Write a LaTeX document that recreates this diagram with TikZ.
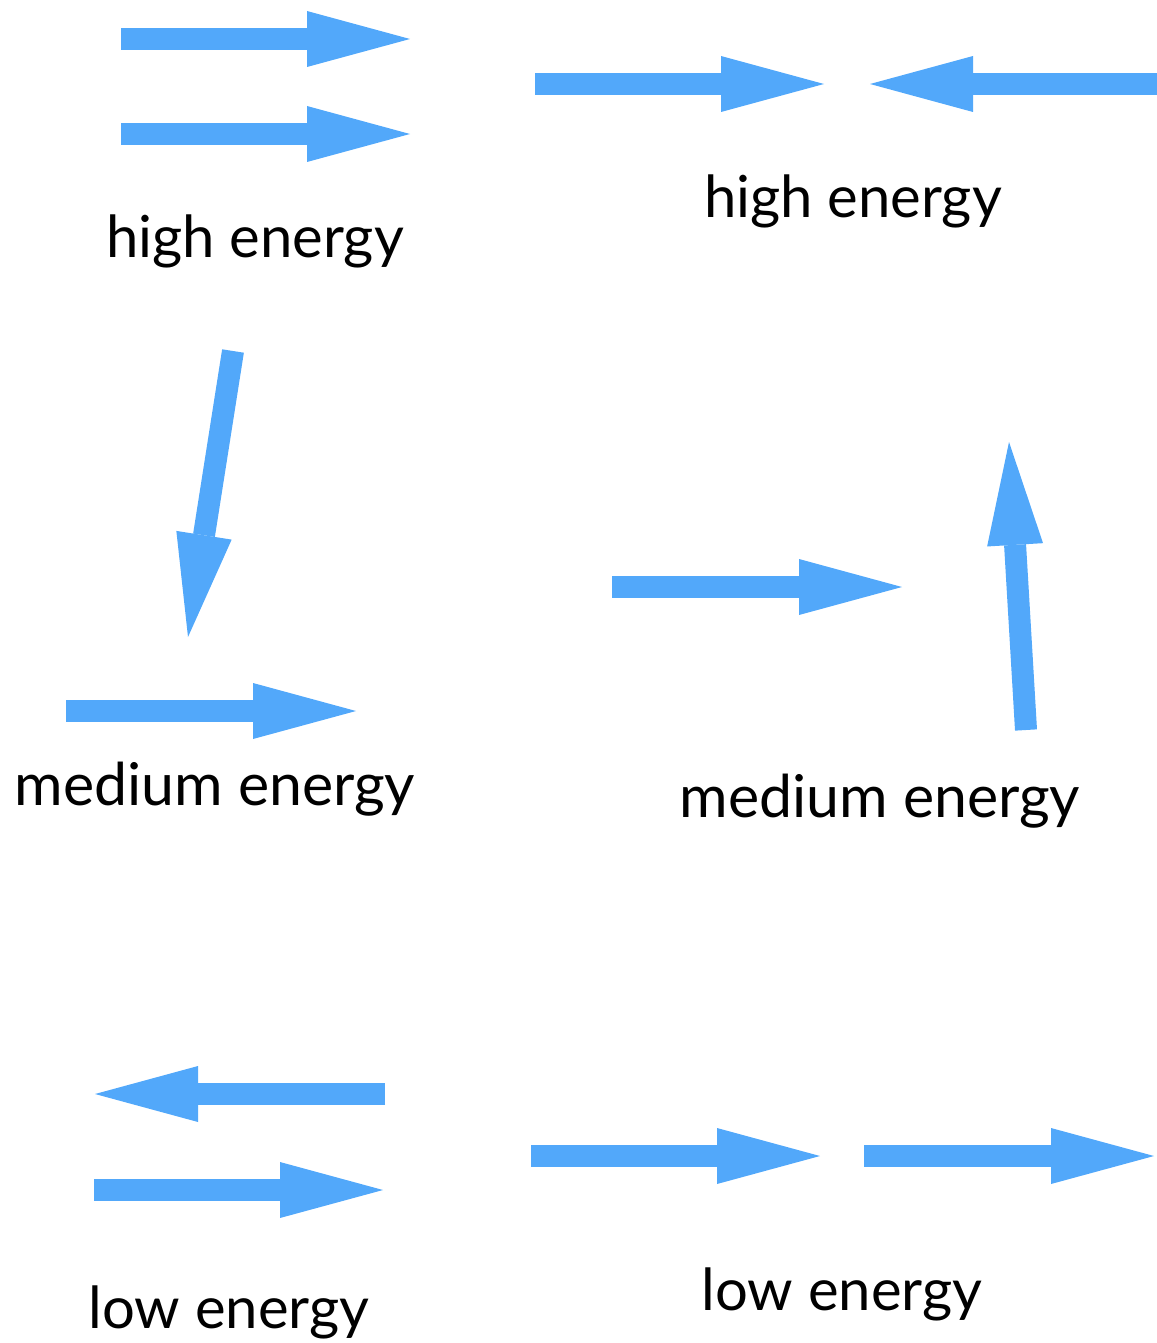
\documentclass[tikz,border=0pt]{standalone}
\usepackage{fontspec}
\setmainfont{Lato}
\usetikzlibrary{arrows.meta}
\definecolor{arrowblue}{HTML}{52A8FA}
\tikzset{
  bigarrow/.style={draw=arrowblue, line width=22pt,
    -{Triangle[length=103pt,width=56pt,line width=0pt,fill=arrowblue]}},
  lbl/.style={font=\fontsize{58}{60}\selectfont, inner sep=0pt, anchor=base}
}
\begin{document}
\begin{tikzpicture}[x=1pt,y=-1pt]
\useasboundingbox (0,0) rectangle (1156,1343);
% coordinates
\coordinate (a1s) at (121,39);   \coordinate (a1e) at (410,39);
\coordinate (a2s) at (121,134);  \coordinate (a2e) at (410,134);
\coordinate (a3s) at (535,84);   \coordinate (a3e) at (824,84);
\coordinate (a4s) at (1158,84);  \coordinate (a4e) at (870,84);
\coordinate (a5s) at (233,351);  \coordinate (a5e) at (188,637);
\coordinate (a6s) at (66,711);   \coordinate (a6e) at (356,711);
\coordinate (a7s) at (612,587);  \coordinate (a7e) at (902,587);
\coordinate (a8s) at (1026,730); \coordinate (a8e) at (1009,442);
\coordinate (a9s) at (385,1094); \coordinate (a9e) at (95,1094);
\coordinate (a10s) at (94,1190); \coordinate (a10e) at (383,1190);
\coordinate (a11s) at (531,1156);\coordinate (a11e) at (820,1156);
\coordinate (a12s) at (864,1156);\coordinate (a12e) at (1154,1156);
\foreach \i in {1,...,12} \draw[bigarrow] (a\i s) -- (a\i e);
% labels
\node[lbl] (l1) at (255,257) {high energy};
\node[lbl] (l2) at (853,218) {high energy};
\node[lbl,font=\fontsize{59}{61}\selectfont] (l3) at (215,805) {medium energy};
\node[lbl,font=\fontsize{59}{61}\selectfont] (l4) at (880,817) {medium energy};
\node[lbl] (l5) at (229,1328) {low energy};
\node[lbl] (l6) at (842,1310) {low energy};
\end{tikzpicture}
\end{document}
